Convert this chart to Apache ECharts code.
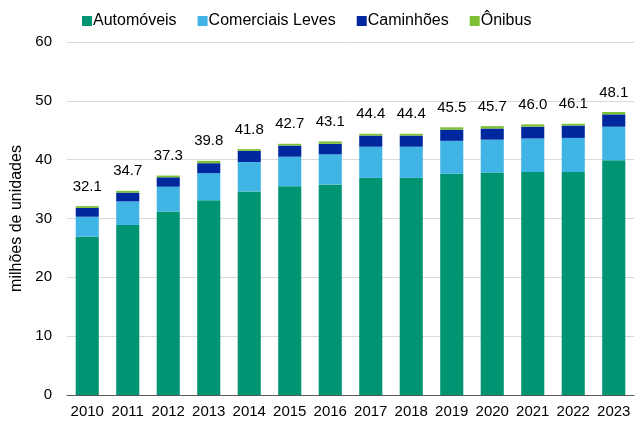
<!DOCTYPE html>
<html>
<head>
<meta charset="utf-8">
<script src="https://cdn.jsdelivr.net/npm/echarts@6/dist/echarts.min.js"></script>
<style>
  html, body { margin: 0; padding: 0; background: #fff; }
  #chart { width: 636px; height: 421px; }
</style>
</head>
<body>
<div id="chart"></div>
<script>
const anos = ['2010', '2011', '2012', '2013', '2014', '2015', '2016', '2017', '2018', '2019', '2020', '2021', '2022', '2023']
const automoveis = [26.9, 28.9, 31.2, 33.1, 34.6, 35.5, 35.8, 36.9, 36.9, 37.6, 37.8, 37.9, 37.9, 39.9]
const comerciaisLeves = [3.4, 4.0, 4.2, 4.6, 5.0, 5.0, 5.1, 5.3, 5.3, 5.6, 5.6, 5.7, 5.8, 5.7]
const caminhoes = [1.5, 1.5, 1.6, 1.7, 1.9, 1.9, 1.8, 1.9, 1.9, 1.9, 1.9, 2.0, 2.1, 2.1]
const onibus = [0.3, 0.3, 0.3, 0.4, 0.3, 0.3, 0.4, 0.3, 0.3, 0.4, 0.4, 0.4, 0.3, 0.4]
const totais = ['32.1', '34.7', '37.3', '39.8', '41.8', '42.7', '43.1', '44.4', '44.4', '45.5', '45.7', '46.0', '46.1', '48.1']

const fonte = 'Liberation Sans, Arial, sans-serif'
const chart = echarts.init(document.getElementById('chart'))

const serie = (name, data, color) => ({
  name,
  type: 'bar',
  stack: 'total',
  data,
  barWidth: '57%',
  itemStyle: { color },
  emphasis: { disabled: true }
})

const barOnibus = serie('Ônibus', onibus, '#7dc034')
barOnibus.label = {
  show: true,
  position: 'top',
  distance: 12,
  fontSize: 15,
  fontFamily: fonte,
  color: '#000',
  formatter: p => totais[p.dataIndex]
}

chart.setOption({
  animation: false,
  textStyle: { fontFamily: fonte },
  legend: {
    top: 8,
    left: 77,
    itemWidth: 10,
    itemHeight: 10,
    itemGap: 21,
    icon: 'rect',
    textStyle: { fontSize: 16, color: '#000', fontFamily: fonte, padding: [0, 0, 0, -4] },
    data: ['Automóveis', 'Comerciais Leves', 'Caminhões', 'Ônibus']
  },
  grid: { left: 67, right: 2, top: 42, bottom: 26 },
  xAxis: {
    type: 'category',
    data: anos,
    axisLine: { lineStyle: { color: '#595959', width: 1 } },
    axisTick: { show: false },
    axisLabel: { interval: 0, fontSize: 15, color: '#000', fontFamily: fonte, margin: 9 }
  },
  yAxis: {
    type: 'value',
    min: 0,
    max: 60,
    interval: 10,
    name: 'milhões de unidades',
    nameLocation: 'middle',
    nameGap: 36,
    nameTextStyle: { fontSize: 16, color: '#000', fontFamily: fonte },
    axisLine: { show: false },
    axisTick: { show: false },
    axisLabel: { fontSize: 15, color: '#000', fontFamily: fonte, margin: 15 },
    splitLine: { lineStyle: { color: '#d9d9d9', width: 1 } }
  },
  series: [
    serie('Automóveis', automoveis, '#009472'),
    serie('Comerciais Leves', comerciaisLeves, '#41b4e6'),
    serie('Caminhões', caminhoes, '#00289e'),
    barOnibus
  ]
})
</script>
</body>
</html>
